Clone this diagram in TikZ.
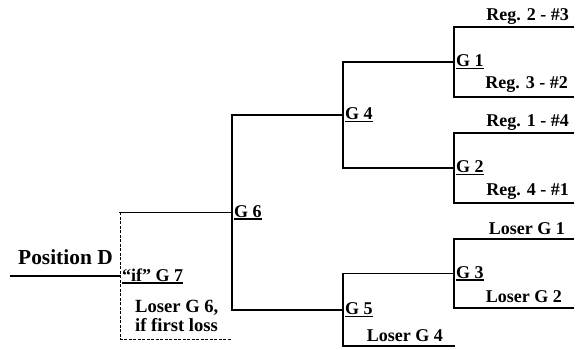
\documentclass[tikz,border=0pt]{standalone}
\usepackage{fontspec}
\setmainfont{Liberation Serif}
\usepackage{tikz}
\usetikzlibrary{positioning, calc}
\newcommand{\gameul}[1]{\setbox0\hbox{#1}\rlap{\rule[-2.5pt]{\wd0}{1.4pt}}\box0}
\tikzstyle{game} = [anchor=west, inner sep=2pt, font=\fontsize{18}{19}\selectfont\bfseries]
\tikzstyle{team} = [anchor=base east, inner sep=0pt, font=\fontsize{18}{19}\selectfont\bfseries]
\tikzstyle{note} = [anchor=base west, inner sep=0pt, align=left, font=\fontsize{18.6}{19}\selectfont\bfseries]
\tikzstyle{bracket} = [line width=1.1pt, line cap=rect]
\tikzstyle{ifline} = [line width=0.9pt, dash pattern=on 3pt off 1.5pt]

\begin{document}
\begin{tikzpicture}[x=1pt, y=1pt]
    \useasboundingbox (0,0) rectangle (582,350);
    % Junctions
    \coordinate (j1) at (454,288);
    \coordinate (j2) at (454,182);
    \coordinate (j3) at (454,76.5);
    \coordinate (j4) at (343,235);
    \coordinate (j5) at (343,40);
    \coordinate (j6) at (232,137.5);
    \coordinate (j7) at (120,74);
    % Free line ends
    \coordinate (t1) at (573,323);
    \coordinate (t2) at (573,253);
    \coordinate (t3) at (573,217);
    \coordinate (t4) at (573,147);
    \coordinate (t5) at (573,111);
    \coordinate (t6) at (573,42);
    \coordinate (t7) at (454,4);
    \coordinate (t8) at (232,11);
    \coordinate (start) at (11,74);

    % Brackets
    \draw [bracket] (t1) -| (j1) |- (t2);
    \draw [bracket] (t3) -| (j2) |- (t4);
    \draw [bracket] (t5) -| (j3) |- (t6);
    \draw [bracket] (j1) -| (j4) |- (j2);
    \draw [bracket] (j3) -| (j5) |- (t7);
    \draw [bracket] (j4) -| (j6) |- (j5);
    \draw [bracket] (j6) -- (j6 -| j7);
    \draw [ifline] (j6 -| j7) -- (j7) |- (t8);
    \draw [bracket] (start) -- (j7);

    % Games
    \node (g1) [game] at (j1) {\gameul{G 1}};
    \node (g2) [game] at (j2) {\gameul{G 2}};
    \node (g3) [game] at (j3) {\gameul{G 3}};
    \node (g4) [game] at (j4) {\gameul{G 4}};
    \node (g5) [game] at (j5) {\gameul{G 5}};
    \node (g6) [game] at (j6) {\gameul{G 6}};
    \node (g7) [game] at (j7) {\gameul{“if” G 7}};

    % Labels
    \node (reg23) [team] at ([shift={(-4,6)}]t1) {Reg. 2 - \#3};
    \node (reg32) [team] at ([shift={(-5,8)}]t2) {Reg. 3 - \#2};
    \node (reg14) [team] at ([shift={(-4,6)}]t3) {Reg. 1 - \#4};
    \node (reg41) [team] at ([shift={(-4,7)}]t4) {Reg. 4 - \#1};
    \node (los1) [team] at ([shift={(-8,4)}]t5) {Loser G 1};
    \node (los2) [team] at ([shift={(-11,5)}]t6) {Loser G 2};
    \node (los4) [team] at ([shift={(-11,4)}]t7) {Loser G 4};
    \node (posd) [note, font=\fontsize{21.4}{22}\selectfont\bfseries] at ([shift={(7,11)}]start) {Position D};
    \node (los6) [note] at ([shift={(15,-56)}]j7) {Loser G 6,\\if first loss};
\end{tikzpicture}
\end{document}
